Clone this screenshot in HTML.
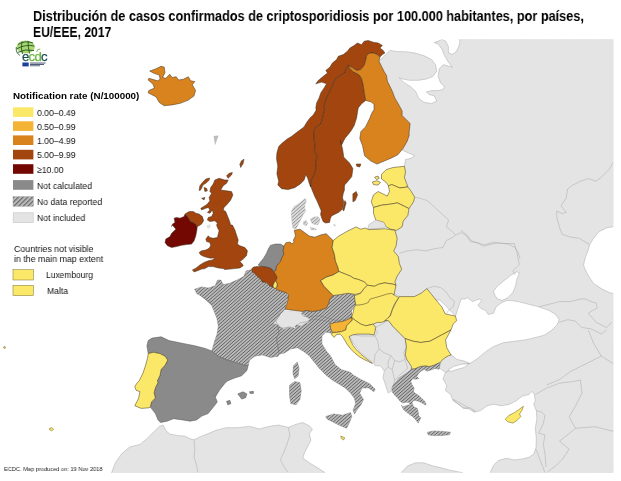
<!DOCTYPE html>
<html><head><meta charset="utf-8"><title>ECDC map</title>
<style>
html,body{margin:0;padding:0;background:#fff;}
body{width:621px;height:481px;overflow:hidden;position:relative;font-family:"Liberation Sans",sans-serif;}
svg{position:absolute;left:0;top:0;}
.t{position:absolute;white-space:nowrap;color:#000;line-height:1;will-change:transform;}
</style></head><body>
<svg width="621" height="481" viewBox="0 0 621 481">
<defs>
<pattern id="hatch" width="6" height="2.32" patternUnits="userSpaceOnUse" patternTransform="rotate(-41)">
<rect width="6" height="2.32" fill="#bcbcbc"/><rect width="6" height="1.05" fill="#6a6a6a"/>
</pattern>
<pattern id="hatchL" width="6" height="3.3" patternUnits="userSpaceOnUse" patternTransform="rotate(-45)">
<rect width="6" height="3.3" fill="#b8b8b8"/><rect width="6" height="1.1" fill="#666"/>
</pattern>
<clipPath id="hc"><path d="M194.6,289.2 L201.5,286.9 L208.3,288.1 L215.2,285.8 L217.5,280.1 L220.9,280.1 L223.2,284.6 L228.9,283.5 L236.9,280.1 L243.8,276.6 L246.1,270.9 L250.7,269.8 L254.1,273.2 L257.5,276.6 L263.2,280.1 L267.8,284.6 L272.4,285.8 L274.2,287.5 L276.5,288.6 L279.4,289.8 L285.2,292.1 L288.6,296.6 L286.3,302.4 L285.2,309.2 L280.6,313.8 L276.0,320.7 L277.8,326.9 L279.1,332.1 L276.5,338.6 L277.8,346.4 L279.1,354.2 L278.1,356.2 L270.3,357.5 L262.5,354.9 L254.7,356.2 L249.5,360.1 L248.2,365.3 L244.3,365.3 L236.5,362.7 L227.4,360.1 L218.3,356.2 L211.8,351.0 L214.4,341.9 L217.0,334.2 L218.3,326.4 L217.0,318.6 L214.4,312.1 L211.8,305.6 L205.3,299.1 L200.1,295.2 L211.8,304.1 L207.2,300.7 L201.5,296.1 L196.9,293.8Z M279.1,354.2 L277.8,346.4 L276.5,338.6 L279.1,332.1 L277.8,326.9 L283.0,328.2 L289.5,326.9 L294.7,328.2 L299.9,323.0 L306.4,321.7 L314.2,319.1 L321.9,320.4 L329.7,321.7 L331.0,329.5 L332.3,333.4 L325.8,332.1 L321.9,336.0 L321.9,343.8 L325.8,350.3 L331.0,356.8 L334.9,364.5 L341.4,369.7 L350.5,372.3 L353.1,374.9 L359.6,378.8 L370.0,384.0 L375.2,389.2 L373.9,391.8 L368.7,387.9 L362.2,387.9 L359.6,393.1 L363.5,399.6 L360.9,404.8 L357.0,410.0 L354.4,413.9 L353.1,410.0 L355.7,403.5 L354.4,398.3 L350.5,393.1 L345.3,387.9 L338.8,384.0 L332.3,380.1 L325.8,374.9 L319.4,368.4 L314.2,361.9 L309.0,355.5 L303.8,351.6 L297.3,347.7 L290.8,349.0 L284.3,352.9Z M325.8,416.5 L333.6,413.9 L342.7,415.2 L350.5,412.6 L351.8,416.5 L349.2,423.0 L346.6,428.2 L340.1,425.6 L332.3,421.7 L327.1,419.1Z M289.5,385.3 L294.7,381.4 L299.9,382.7 L301.2,390.5 L299.9,399.6 L296.0,404.8 L290.8,403.5 L289.5,395.7Z M293.4,365.8 L297.3,361.9 L299.1,368.4 L298.1,376.2 L294.7,378.8 L292.9,373.6Z M302.3,311.5 L305.8,310.4 L312.6,311.5 L319.5,310.4 L326.3,308.1 L328.6,303.5 L329.8,298.9 L333.2,295.5 L341.2,294.4 L348.1,293.2 L354.9,294.4 L356.1,298.9 L354.9,305.8 L351.5,310.4 L351.5,316.1 L344.6,319.5 L336.6,320.7 L328.6,318.4 L321.8,316.1 L314.9,316.1 L309.2,317.2 L303.5,316.1 L301.2,313.8Z M391.8,388.1 L393.1,385.4 L396.5,381.4 L399.2,378.0 L403.2,375.3 L407.3,372.6 L411.4,369.2 L415.4,368.5 L420.1,366.5 L424.9,365.8 L429.6,366.5 L434.3,365.1 L438.4,363.1 L440.4,362.4 L439.7,366.5 L439.1,369.2 L435.0,368.5 L430.9,369.9 L426.9,371.2 L424.2,369.2 L420.8,371.2 L418.1,373.9 L416.8,376.6 L418.8,378.6 L415.4,379.3 L412.7,378.6 L410.7,381.4 L412.0,384.7 L414.1,388.1 L413.4,391.5 L415.4,393.5 L418.8,395.5 L421.5,398.2 L424.9,401.6 L426.2,405.0 L424.2,404.3 L420.8,402.3 L417.4,400.9 L414.1,400.3 L412.0,402.3 L412.7,405.0 L414.1,407.0 L417.4,408.4 L418.1,411.8 L418.8,415.8 L420.8,417.9 L418.2,423.1 L414.3,417.9 L409.1,414.0 L403.9,410.1 L401.3,404.9 L402.6,407.0 L405.9,405.7 L410.0,404.7 L409.3,402.3 L405.9,402.3 L402.6,403.0 L399.9,400.9 L397.8,398.2 L395.1,395.5 L392.4,392.2Z M427.3,432.2 L433.8,430.9 L442.9,431.4 L450.6,432.2 L449.4,434.8 L441.6,435.6 L432.5,435.6 L428.1,434.8Z M275,315 L352,312 L352,324 L300,326 L275,330Z"/></clipPath><clipPath id="hcdk"><path d="M292.2,209.5 L294.2,206.3 L298.0,204.3 L302.6,200.5 L305.1,198.5 L306.4,200.5 L305.1,204.3 L304.5,208.2 L305.8,210.8 L303.2,214.6 L301.3,218.5 L299.3,222.4 L297.4,226.2 L296.1,228.8 L292.9,228.2 L292.2,223.7 L291.6,217.2 L291.3,212.1Z M303.2,221.7 L305.8,220.4 L307.7,223.0 L306.4,225.6 L303.8,224.9Z M310.3,219.1 L313.5,217.2 L317.4,216.6 L319.9,218.5 L319.3,222.4 L317.4,224.9 L314.1,224.3 L311.6,223.0Z M310.3,227.5 L314.8,228.2 L316.7,229.5 L313.5,230.1 L310.9,229.5Z M333.5,224.3 L335.4,224.9 L334.8,226.2Z"/></clipPath>
<clipPath id="mapclip"><rect x="0" y="39.5" width="613.3" height="433"/></clipPath>
</defs>
<rect width="621" height="481" fill="#fff"/>
<g clip-path="url(#mapclip)">
<path d="M384.8,55.6 L390.0,50.4 L397.8,51.7 L405.6,51.7 L414.7,53.0 L423.8,55.6 L431.6,59.5 L435.5,64.7 L436.8,71.2 L432.9,76.4 L426.4,79.0 L418.6,80.3 L409.5,80.3 L403.0,79.0 L399.1,77.7 L404.3,82.9 L410.8,86.8 L416.0,91.9 L418.6,98.4 L423.8,102.3 L431.6,103.6 L436.8,101.0 L434.2,95.8 L429.0,94.5 L426.4,91.9 L431.6,90.6 L438.1,90.6 L443.2,89.4 L444.5,86.8 L440.6,82.9 L438.1,76.4 L439.4,68.6 L443.2,64.7 L448.4,66.0 L452.3,67.3 L448.4,62.1 L444.5,55.6 L441.9,49.1 L438.1,43.9 L434.2,42.6 L438.1,41.3 L441.9,39.2 L445.8,41.3 L448.4,46.5 L448.4,53.0 L452.3,54.3 L456.2,51.7 L458.8,46.5 L460.1,41.3 L458.8,39.2 L614,39 L614,190 L613.7,226.6 L606.5,227.9 L598.7,231.8 L593.5,238.3 L589.6,244.8 L588.3,250.0 L585.7,256.5 L583.6,264.3 L584.4,267.8 L588.3,275.6 L593.5,283.4 L601.3,288.6 L609.1,292.5 L614.2,293.8 L614,472.5 L490.2,472.8 L493.5,465.3 L498.3,460.5 L506.3,458.3 L514.4,459.9 L522.4,458.9 L528.9,457.3 L533.7,454.1 L536.0,447.6 L536.3,438.0 L535.3,428.3 L536.9,418.6 L536.3,410.6 L533.7,404.2 L535.3,400.9 L534.4,394.5 L532.1,391.3 L528.9,394.5 L522.4,396.1 L516.0,400.9 L509.6,404.2 L501.5,405.8 L493.5,404.2 L487.0,405.8 L480.6,410.6 L474.1,412.2 L469.3,409.0 L462.9,407.4 L458.0,404.2 L453.2,399.3 L475.3,411.4 L470.1,407.5 L463.6,408.8 L459.7,404.9 L453.2,401.0 L450.6,394.5 L445.5,390.6 L446.8,385.5 L442.9,379.0 L445.5,372.5 L451.9,368.6 L462.3,364.7 L470.1,363.4 L477.9,358.2 L485.7,351.7 L493.5,346.5 L503.9,342.6 L514.3,341.3 L524.7,340.0 L533.7,337.9 L544.1,335.3 L551.9,330.1 L557.1,324.9 L559.2,319.7 L555.8,314.5 L549.3,310.6 L538.9,306.8 L528.5,304.2 L518.1,301.6 L509.1,300.3 L505.2,301.0 L501.3,302.9 L496.1,306.8 L493.5,313.2 L488.3,314.5 L485.7,310.6 L480.5,308.1 L477.9,305.5 L481.8,300.3 L479.2,299.0 L472.7,301.6 L467.5,297.7 L464.9,299.0 L461.0,299.0 L457.8,309.2 L455.5,316.1 L440,300 L405,300 L392,292 L390,230 L398,215 L398,170 L404.4,166.3 L405.5,159.5 L411.2,158.3 L414.7,155.5 L408,152.8 L403,150.5 L395,145 L385,100 L378,62Z" fill="#e4e4e4" stroke="#a9a9a9" stroke-width="0.5" stroke-linejoin="round"/>
<path d="M507.8,297.7 L512.9,292.5 L515.5,286.0 L516.8,279.5 L519.4,273.0 L516.8,271.7 L510.4,275.6 L503.9,280.8 L497.4,286.0 L493.5,291.2 L494.8,295.1 L497.4,299.0 L502.6,300.3Z" fill="#ffffff" stroke="#a9a9a9" stroke-width="0.5" stroke-linejoin="round"/>
<path d="M450.6,354.3 L445.5,356.9 L439.0,360.8 L436.4,366.0 L440.3,368.6 L445.5,372.5 L451.9,368.6 L462.3,364.7 L470.1,363.4 L463.6,360.8 L457.1,359.5Z" fill="#e4e4e4" stroke="#a9a9a9" stroke-width="0.5" stroke-linejoin="round"/>
<path d="M448.7,369.6 L453.4,366.5 L461.2,364.3 L469,363.7 L464.3,367.4 L456.5,369.6 L450.3,371.8Z" fill="#ffffff" stroke="#a9a9a9" stroke-width="0.5" stroke-linejoin="round"/>
<path d="M352,332 L385,318 L410,322 L414,345 L416,366 L408,385 L394,388 L390,378 L388,370 L378,362 L366,350 L356,340Z" fill="#e4e4e4"/>
<path d="M349.2,336.0 L353.1,334.7 L360.9,336.0 L368.7,336.0 L375.2,336.0 L377.8,332.1 L373.9,328.2 L381.7,324.3 L388.2,320.4 L393.4,326.9 L399.9,333.4 L405.1,338.6 L406.4,346.4 L403.8,352.9 L405.1,359.4 L407.7,368.4 L399.9,374.9 L394.7,380.1 L393.4,385.3 L392.1,390.5 L388.2,393.1 L385.6,385.3 L383.0,377.5 L384.3,371.0 L380.4,365.8 L375.2,365.8 L373.9,363.2 L367.4,358.1 L359.6,351.6 L353.1,342.5Z" fill="#e4e4e4" stroke="#a9a9a9" stroke-width="0.5" stroke-linejoin="round"/>
<path d="M111.6,472.8 L115.5,462.5 L121.9,453.5 L129.6,447.0 L139.9,444.4 L147.7,438.0 L154.1,431.5 L159.3,426.4 L163.1,425.1 L165.7,430.3 L169.6,434.1 L177.3,435.4 L185.1,436.2 L190.2,438.8 L194.1,439.8 L200.5,436.7 L208.2,433.6 L216.0,430.3 L226.3,427.7 L236.6,427.7 L240.0,427.4 L249.7,426.4 L259.3,429.0 L269.0,426.4 L278.6,425.1 L288.3,427.4 L296.4,424.2 L302.8,422.5 L309.2,425.8 L312.5,429.0 L309.2,433.8 L310.9,440.3 L307.6,446.7 L304.4,453.1 L302.8,458.0 L309.2,462.8 L317.3,467.6 L325.3,472.8 L325,472.5 L111,472.5Z" fill="#e4e4e4" stroke="#a9a9a9" stroke-width="0.5" stroke-linejoin="round"/>
<path d="M401.0,472.8 L407.5,466.0 L415.5,462.8 L423.6,462.8 L433.2,466.0 L440.0,467.6 L450.0,470.2 L462.9,472.8Z" fill="#e4e4e4" stroke="#a9a9a9" stroke-width="0.5" stroke-linejoin="round"/>
<g clip-path="url(#hc)"><rect x="180" y="195" width="290" height="250" fill="#b9b9b9"/><path d="M-109.09,445 L175.00,195 M-105.34,445 L178.75,195 M-101.59,445 L182.50,195 M-97.84,445 L186.25,195 M-94.09,445 L190.00,195 M-90.34,445 L193.75,195 M-86.59,445 L197.50,195 M-82.84,445 L201.25,195 M-79.09,445 L205.00,195 M-75.34,445 L208.75,195 M-71.59,445 L212.50,195 M-67.84,445 L216.25,195 M-64.09,445 L220.00,195 M-60.34,445 L223.75,195 M-56.59,445 L227.50,195 M-52.84,445 L231.25,195 M-49.09,445 L235.00,195 M-45.34,445 L238.75,195 M-41.59,445 L242.50,195 M-37.84,445 L246.25,195 M-34.09,445 L250.00,195 M-30.34,445 L253.75,195 M-26.59,445 L257.50,195 M-22.84,445 L261.25,195 M-19.09,445 L265.00,195 M-15.34,445 L268.75,195 M-11.59,445 L272.50,195 M-7.84,445 L276.25,195 M-4.09,445 L280.00,195 M-0.34,445 L283.75,195 M3.41,445 L287.50,195 M7.16,445 L291.25,195 M10.91,445 L295.00,195 M14.66,445 L298.75,195 M18.41,445 L302.50,195 M22.16,445 L306.25,195 M25.91,445 L310.00,195 M29.66,445 L313.75,195 M33.41,445 L317.50,195 M37.16,445 L321.25,195 M40.91,445 L325.00,195 M44.66,445 L328.75,195 M48.41,445 L332.50,195 M52.16,445 L336.25,195 M55.91,445 L340.00,195 M59.66,445 L343.75,195 M63.41,445 L347.50,195 M67.16,445 L351.25,195 M70.91,445 L355.00,195 M74.66,445 L358.75,195 M78.41,445 L362.50,195 M82.16,445 L366.25,195 M85.91,445 L370.00,195 M89.66,445 L373.75,195 M93.41,445 L377.50,195 M97.16,445 L381.25,195 M100.91,445 L385.00,195 M104.66,445 L388.75,195 M108.41,445 L392.50,195 M112.16,445 L396.25,195 M115.91,445 L400.00,195 M119.66,445 L403.75,195 M123.41,445 L407.50,195 M127.16,445 L411.25,195 M130.91,445 L415.00,195 M134.66,445 L418.75,195 M138.41,445 L422.50,195 M142.16,445 L426.25,195 M145.91,445 L430.00,195 M149.66,445 L433.75,195 M153.41,445 L437.50,195 M157.16,445 L441.25,195 M160.91,445 L445.00,195 M164.66,445 L448.75,195 M168.41,445 L452.50,195 M172.16,445 L456.25,195 M175.91,445 L460.00,195 M179.66,445 L463.75,195 M183.41,445 L467.50,195 M187.16,445 L471.25,195 M190.91,445 L475.00,195 M194.66,445 L478.75,195 M198.41,445 L482.50,195 M202.16,445 L486.25,195 M205.91,445 L490.00,195 M209.66,445 L493.75,195 M213.41,445 L497.50,195 M217.16,445 L501.25,195 M220.91,445 L505.00,195 M224.66,445 L508.75,195 M228.41,445 L512.50,195 M232.16,445 L516.25,195 M235.91,445 L520.00,195 M239.66,445 L523.75,195 M243.41,445 L527.50,195 M247.16,445 L531.25,195 M250.91,445 L535.00,195 M254.66,445 L538.75,195 M258.41,445 L542.50,195 M262.16,445 L546.25,195 M265.91,445 L550.00,195 M269.66,445 L553.75,195 M273.41,445 L557.50,195 M277.16,445 L561.25,195 M280.91,445 L565.00,195 M284.66,445 L568.75,195 M288.41,445 L572.50,195 M292.16,445 L576.25,195 M295.91,445 L580.00,195 M299.66,445 L583.75,195 M303.41,445 L587.50,195 M307.16,445 L591.25,195 M310.91,445 L595.00,195 M314.66,445 L598.75,195 M318.41,445 L602.50,195 M322.16,445 L606.25,195 M325.91,445 L610.00,195 M329.66,445 L613.75,195 M333.41,445 L617.50,195 M337.16,445 L621.25,195 M340.91,445 L625.00,195 M344.66,445 L628.75,195 M348.41,445 L632.50,195 M352.16,445 L636.25,195 M355.91,445 L640.00,195 M359.66,445 L643.75,195 M363.41,445 L647.50,195 M367.16,445 L651.25,195 M370.91,445 L655.00,195 M374.66,445 L658.75,195 M378.41,445 L662.50,195 M382.16,445 L666.25,195 M385.91,445 L670.00,195 M389.66,445 L673.75,195 M393.41,445 L677.50,195 M397.16,445 L681.25,195 M400.91,445 L685.00,195 M404.66,445 L688.75,195 M408.41,445 L692.50,195 M412.16,445 L696.25,195 M415.91,445 L700.00,195 M419.66,445 L703.75,195 M423.41,445 L707.50,195 M427.16,445 L711.25,195 M430.91,445 L715.00,195 M434.66,445 L718.75,195 M438.41,445 L722.50,195 M442.16,445 L726.25,195 M445.91,445 L730.00,195 M449.66,445 L733.75,195 M453.41,445 L737.50,195 M457.16,445 L741.25,195 M460.91,445 L745.00,195 M464.66,445 L748.75,195 M468.41,445 L752.50,195 M472.16,445 L756.25,195" stroke="#5e5e5e" stroke-width="0.95" fill="none"/></g>
<g clip-path="url(#hcdk)"><rect x="285" y="195" width="60" height="40" fill="#dcdcdc"/><path d="M236.02,237 L283.75,195 M239.77,237 L287.50,195 M243.52,237 L291.25,195 M247.27,237 L295.00,195 M251.02,237 L298.75,195 M254.77,237 L302.50,195 M258.52,237 L306.25,195 M262.27,237 L310.00,195 M266.02,237 L313.75,195 M269.77,237 L317.50,195 M273.52,237 L321.25,195 M277.27,237 L325.00,195 M281.02,237 L328.75,195 M284.77,237 L332.50,195 M288.52,237 L336.25,195 M292.27,237 L340.00,195 M296.02,237 L343.75,195 M299.77,237 L347.50,195 M303.52,237 L351.25,195 M307.27,237 L355.00,195 M311.02,237 L358.75,195 M314.77,237 L362.50,195 M318.52,237 L366.25,195 M322.27,237 L370.00,195 M326.02,237 L373.75,195 M329.77,237 L377.50,195 M333.52,237 L381.25,195 M337.27,237 L385.00,195 M341.02,237 L388.75,195 M344.77,237 L392.50,195" stroke="#8c8c8c" stroke-width="0.9" fill="none"/></g>
<path d="M273.7,323.5 L277.2,318.9 L280.6,314.3 L285.2,310.9 L292.0,310.9 L298.9,312.0 L302.3,314.3 L305.8,316.6 L309.2,318.9 L308.0,322.3 L304.6,323.5 L301.2,325.8 L296.6,324.6 L293.2,328.0 L288.6,326.9 L284.0,329.2 L280.6,326.9 L278.3,324.6Z" fill="#e4e4e4" stroke="#cfcfcf" stroke-width="0.5"/>
<path d="M292.2,209.5 L294.2,206.3 L298.0,204.3 L302.6,200.5 L305.1,198.5 L306.4,200.5 L305.1,204.3 L304.5,208.2 L305.8,210.8 L303.2,214.6 L301.3,218.5 L299.3,222.4 L297.4,226.2 L296.1,228.8 L292.9,228.2 L292.2,223.7 L291.6,217.2 L291.3,212.1Z" fill="none" stroke="#bbb" stroke-width="0.4" stroke-linejoin="round"/>
<path d="M303.2,221.7 L305.8,220.4 L307.7,223.0 L306.4,225.6 L303.8,224.9Z" fill="none" stroke="#bbb" stroke-width="0.4" stroke-linejoin="round"/>
<path d="M310.3,219.1 L313.5,217.2 L317.4,216.6 L319.9,218.5 L319.3,222.4 L317.4,224.9 L314.1,224.3 L311.6,223.0Z" fill="none" stroke="#bbb" stroke-width="0.4" stroke-linejoin="round"/>
<path d="M310.3,227.5 L314.8,228.2 L316.7,229.5 L313.5,230.1 L310.9,229.5Z" fill="none" stroke="#bbb" stroke-width="0.4" stroke-linejoin="round"/>
<path d="M333.5,224.3 L335.4,224.9 L334.8,226.2Z" fill="none" stroke="#bbb" stroke-width="0.4" stroke-linejoin="round"/>
<path d="M194.6,289.2 L201.5,286.9 L208.3,288.1 L215.2,285.8 L217.5,280.1 L220.9,280.1 L223.2,284.6 L228.9,283.5 L236.9,280.1 L243.8,276.6 L246.1,270.9 L250.7,269.8 L254.1,273.2 L257.5,276.6 L263.2,280.1 L267.8,284.6 L272.4,285.8 L274.2,287.5 L276.5,288.6 L279.4,289.8 L285.2,292.1 L288.6,296.6 L286.3,302.4 L285.2,309.2 L280.6,313.8 L276.0,320.7 L277.8,326.9 L279.1,332.1 L276.5,338.6 L277.8,346.4 L279.1,354.2 L278.1,356.2 L270.3,357.5 L262.5,354.9 L254.7,356.2 L249.5,360.1 L248.2,365.3 L244.3,365.3 L236.5,362.7 L227.4,360.1 L218.3,356.2 L211.8,351.0 L214.4,341.9 L217.0,334.2 L218.3,326.4 L217.0,318.6 L214.4,312.1 L211.8,305.6 L205.3,299.1 L200.1,295.2 L211.8,304.1 L207.2,300.7 L201.5,296.1 L196.9,293.8Z" fill="none" stroke="#777" stroke-width="0.4" stroke-linejoin="round"/>
<path d="M279.1,354.2 L277.8,346.4 L276.5,338.6 L279.1,332.1 L277.8,326.9 L283.0,328.2 L289.5,326.9 L294.7,328.2 L299.9,323.0 L306.4,321.7 L314.2,319.1 L321.9,320.4 L329.7,321.7 L331.0,329.5 L332.3,333.4 L325.8,332.1 L321.9,336.0 L321.9,343.8 L325.8,350.3 L331.0,356.8 L334.9,364.5 L341.4,369.7 L350.5,372.3 L353.1,374.9 L359.6,378.8 L370.0,384.0 L375.2,389.2 L373.9,391.8 L368.7,387.9 L362.2,387.9 L359.6,393.1 L363.5,399.6 L360.9,404.8 L357.0,410.0 L354.4,413.9 L353.1,410.0 L355.7,403.5 L354.4,398.3 L350.5,393.1 L345.3,387.9 L338.8,384.0 L332.3,380.1 L325.8,374.9 L319.4,368.4 L314.2,361.9 L309.0,355.5 L303.8,351.6 L297.3,347.7 L290.8,349.0 L284.3,352.9Z" fill="none" stroke="#777" stroke-width="0.4" stroke-linejoin="round"/>
<path d="M325.8,416.5 L333.6,413.9 L342.7,415.2 L350.5,412.6 L351.8,416.5 L349.2,423.0 L346.6,428.2 L340.1,425.6 L332.3,421.7 L327.1,419.1Z" fill="none" stroke="#777" stroke-width="0.4" stroke-linejoin="round"/>
<path d="M289.5,385.3 L294.7,381.4 L299.9,382.7 L301.2,390.5 L299.9,399.6 L296.0,404.8 L290.8,403.5 L289.5,395.7Z" fill="none" stroke="#777" stroke-width="0.4" stroke-linejoin="round"/>
<path d="M293.4,365.8 L297.3,361.9 L299.1,368.4 L298.1,376.2 L294.7,378.8 L292.9,373.6Z" fill="none" stroke="#777" stroke-width="0.4" stroke-linejoin="round"/>
<path d="M302.3,311.5 L305.8,310.4 L312.6,311.5 L319.5,310.4 L326.3,308.1 L328.6,303.5 L329.8,298.9 L333.2,295.5 L341.2,294.4 L348.1,293.2 L354.9,294.4 L356.1,298.9 L354.9,305.8 L351.5,310.4 L351.5,316.1 L344.6,319.5 L336.6,320.7 L328.6,318.4 L321.8,316.1 L314.9,316.1 L309.2,317.2 L303.5,316.1 L301.2,313.8Z" fill="none" stroke="#777" stroke-width="0.4" stroke-linejoin="round"/>
<path d="M391.8,388.1 L393.1,385.4 L396.5,381.4 L399.2,378.0 L403.2,375.3 L407.3,372.6 L411.4,369.2 L415.4,368.5 L420.1,366.5 L424.9,365.8 L429.6,366.5 L434.3,365.1 L438.4,363.1 L440.4,362.4 L439.7,366.5 L439.1,369.2 L435.0,368.5 L430.9,369.9 L426.9,371.2 L424.2,369.2 L420.8,371.2 L418.1,373.9 L416.8,376.6 L418.8,378.6 L415.4,379.3 L412.7,378.6 L410.7,381.4 L412.0,384.7 L414.1,388.1 L413.4,391.5 L415.4,393.5 L418.8,395.5 L421.5,398.2 L424.9,401.6 L426.2,405.0 L424.2,404.3 L420.8,402.3 L417.4,400.9 L414.1,400.3 L412.0,402.3 L412.7,405.0 L414.1,407.0 L417.4,408.4 L418.1,411.8 L418.8,415.8 L420.8,417.9 L418.2,423.1 L414.3,417.9 L409.1,414.0 L403.9,410.1 L401.3,404.9 L402.6,407.0 L405.9,405.7 L410.0,404.7 L409.3,402.3 L405.9,402.3 L402.6,403.0 L399.9,400.9 L397.8,398.2 L395.1,395.5 L392.4,392.2Z" fill="none" stroke="#777" stroke-width="0.4" stroke-linejoin="round"/>
<path d="M427.3,432.2 L433.8,430.9 L442.9,431.4 L450.6,432.2 L449.4,434.8 L441.6,435.6 L432.5,435.6 L428.1,434.8Z" fill="none" stroke="#777" stroke-width="0.4" stroke-linejoin="round"/>
<path d="M149.7,71.1 L156.1,68.7 L160.9,66.3 L164.2,67.1 L165.0,72.7 L162.5,77.5 L165.8,78.3 L169.8,74.3 L172.2,77.5 L176.2,76.7 L178.6,80.0 L183.5,79.2 L188.3,76.7 L190.7,80.8 L194.8,81.6 L192.3,84.8 L195.6,90.4 L193.9,96.1 L188.3,100.1 L180.3,103.3 L172.2,104.9 L164.2,105.7 L159.3,102.5 L156.1,96.9 L148.1,92.8 L148.9,90.4 L154.5,88.0 L152.9,84.0 L148.1,80.0 L148.9,78.3 L157.7,80.8 L160.1,79.2 L159.3,75.1 L154.5,73.5Z" fill="#d9831f" stroke="#3a3020" stroke-width="0.5" stroke-linejoin="round"/>
<path d="M315.8,107.9 L316.6,102.9 L319.1,97.9 L320.8,92.9 L324.1,87.9 L326.6,83.8 L321.6,82.1 L315.8,83.8 L318.3,80.4 L323.3,76.3 L327.5,72.9 L325.8,70.4 L330.0,67.1 L332.4,63.0 L336.6,59.6 L338.3,56.3 L343.3,54.6 L347.4,51.3 L349.9,48.0 L354.1,45.5 L357.4,43.0 L361.6,44.7 L364.1,41.3 L368.2,40.5 L373.2,42.2 L378.2,43.0 L382.4,45.5 L379.9,48.0 L383.2,50.5 L384.9,53.0 L382.4,54.6 L379.9,57.1 L377.4,54.6 L373.2,53.0 L369.9,53.0 L366.6,55.5 L365.7,60.5 L364.1,65.5 L360.7,69.6 L356.6,70.4 L352.4,67.6 L348.3,65.5 L345.8,68.8 L344.9,72.9 L340.8,75.4 L336.6,77.9 L334.1,81.3 L332.4,86.3 L330.0,91.2 L327.5,96.2 L325.0,102.1 L324.1,107.9 L324.6,110.0 L322.7,117.5 L320.9,124.0 L316.2,126.9 L314.3,130.6 L313.9,138.1 L315.2,145.6 L314.3,151.2 L317.1,155.9 L315.8,161.5 L316.2,168.1 L314.3,174.6 L311.5,180.2 L310.6,186.8 L309.1,183.0 L307.8,178.4 L305.9,174.6 L304.0,180.2 L300.3,184.0 L294.6,187.7 L288.1,189.6 L281.5,188.7 L277.8,184.9 L278.7,181.2 L276.9,173.7 L277.8,166.2 L276.5,158.7 L276.9,153.1 L278.7,146.5 L282.5,142.8 L287.2,139.0 L291.8,136.2 L296.5,132.5 L300.3,129.7 L304.0,126.9 L306.8,122.2 L309.6,118.4 L313.4,114.7 L316.2,110.0Z" fill="#a2450f" stroke="#3a3020" stroke-width="0.5" stroke-linejoin="round"/>
<path d="M348.3,65.5 L349.9,68.4 L353.2,71.8 L357.4,73.8 L359.9,75.8 L361.6,78.8 L363.2,84.6 L364.1,91.2 L364.9,96.2 L365.7,100.4 L361.6,103.7 L358.2,107.9 L357.4,112.9 L356.6,118.0 L354.1,125.8 L350.6,131.5 L344.9,138.4 L341.5,145.2 L340.3,140.0 L342.6,149.2 L343.8,157.2 L349.5,162.9 L352.9,168.6 L351.8,176.6 L347.2,182.3 L343.8,185.8 L344.4,185.0 L344.4,190.2 L343.1,194.0 L342.5,197.9 L343.8,201.8 L343.1,205.6 L341.9,209.5 L339.3,212.1 L335.4,214.0 L331.5,215.9 L330.3,218.5 L329.6,222.4 L325.7,223.0 L323.2,221.7 L321.9,218.5 L320.6,214.6 L321.2,210.8 L319.3,206.3 L317.4,201.8 L314.8,196.6 L312.2,190.2 L310.3,185.0 L310.6,186.8 L311.5,180.2 L314.3,174.6 L316.2,168.1 L315.8,161.5 L317.1,155.9 L314.3,151.2 L315.2,145.6 L313.9,138.1 L314.3,130.6 L316.2,126.9 L320.9,124.0 L322.7,117.5 L324.6,110.0 L324.1,107.9 L325.0,102.1 L327.5,96.2 L330.0,91.2 L332.4,86.3 L334.1,81.3 L336.6,77.9 L340.8,75.4 L344.9,72.9 L345.8,68.8Z" fill="#a2450f" stroke="#3a3020" stroke-width="0.5" stroke-linejoin="round"/>
<path d="M352.9,193.8 L356.3,191.5 L357.5,194.9 L355.2,200.6 L352.9,201.8Z" fill="#a2450f" stroke="#3a3020" stroke-width="0.5" stroke-linejoin="round"/>
<path d="M344.9,200.6 L346.1,202.9 L343.8,210.9 L342.6,209.8Z" fill="#a2450f" stroke="#3a3020" stroke-width="0.5" stroke-linejoin="round"/>
<path d="M379.9,57.1 L377.4,54.6 L373.2,53.0 L369.9,53.0 L366.6,55.5 L365.7,60.5 L364.1,65.5 L360.7,69.6 L356.6,70.4 L352.4,67.6 L348.3,65.5 L349.9,68.4 L353.2,71.8 L357.4,73.8 L359.9,75.8 L361.6,78.8 L363.2,84.6 L364.1,91.2 L364.9,96.2 L365.7,100.4 L371.5,102.1 L374.0,104.6 L374.0,109.5 L371.5,113.7 L369.9,118.0 L365.5,126.9 L360.9,131.5 L359.8,138.4 L362.5,145.4 L364.6,155.8 L370.8,161.0 L377.0,164.1 L384.3,161.0 L391.6,157.9 L397.8,154.8 L403.0,148.5 L407.2,141.2 L409.3,135.0 L409.0,133.8 L410.1,123.5 L402.1,115.5 L402.1,110.9 L398.2,103.7 L394.8,97.9 L392.3,91.2 L389.9,86.3 L387.4,81.3 L386.5,75.4 L384.0,71.3 L381.5,66.3 L379.0,61.3Z" fill="#d9831f" stroke="#3a3020" stroke-width="0.5" stroke-linejoin="round"/>
<path d="M356.3,164.0 L360.9,164.0 L359.8,167.0 L356.8,166.3Z" fill="#a2450f" stroke="#3a3020" stroke-width="0.5" stroke-linejoin="round"/>
<path d="M381.5,174.3 L386.1,169.7 L393.0,167.5 L404.4,166.3 L405.5,172.0 L404.4,177.7 L406.7,183.5 L407.8,186.9 L399.8,188.0 L391.8,184.6 L388.4,185.8 L386.1,182.3 L381.5,178.9Z" fill="#fce868" stroke="#3a3020" stroke-width="0.5" stroke-linejoin="round"/>
<path d="M372.4,181.9 L376.9,180.7 L380.4,182.3 L378.1,185.1 L373.5,184.6Z" fill="#fce868" stroke="#3a3020" stroke-width="0.5" stroke-linejoin="round"/>
<path d="M374.6,177.1 L378.1,176.1 L379.2,178.4 L376.5,179.6Z" fill="#fce868" stroke="#3a3020" stroke-width="0.5" stroke-linejoin="round"/>
<path d="M373.5,194.9 L378.1,191.5 L382.7,193.8 L387.2,196.1 L389.5,191.5 L388.4,185.8 L391.8,184.6 L399.8,188.0 L407.8,186.9 L411.3,191.5 L414.7,197.2 L413.5,201.8 L409.0,208.6 L404.4,206.3 L397.5,202.9 L390.7,204.1 L381.5,205.2 L373.5,207.5 L371.2,201.8Z" fill="#fce868" stroke="#3a3020" stroke-width="0.5" stroke-linejoin="round"/>
<path d="M373.5,207.5 L381.5,205.2 L390.7,204.1 L397.5,202.9 L404.4,206.3 L409.0,208.6 L407.8,215.5 L403.2,221.2 L402.1,226.9 L396.4,230.4 L390.7,229.2 L386.1,226.9 L383.8,222.4 L375.8,220.1 L373.5,213.2Z" fill="#fce868" stroke="#3a3020" stroke-width="0.5" stroke-linejoin="round"/>
<path d="M367.8,229.2 L368.9,224.6 L375.8,220.1 L383.8,222.4 L386.1,226.9 L381.5,228.1Z" fill="#e4e4e4" stroke="#a9a9a9" stroke-width="0.5" stroke-linejoin="round"/>
<path d="M214.9,180.0 L219.1,178.3 L224.9,180.0 L228.2,180.0 L226.6,183.3 L223.2,185.8 L220.7,190.0 L226.6,190.8 L231.5,191.6 L232.9,194.9 L230.7,199.9 L227.4,204.1 L224.1,207.4 L223.2,209.9 L225.7,211.6 L227.4,215.7 L229.1,219.9 L230.7,224.9 L232.4,225.0 L234.9,230.0 L236.5,235.0 L238.2,240.0 L237.4,244.1 L239.9,245.8 L244.9,247.5 L247.4,250.8 L246.5,255.8 L243.2,259.1 L239.9,261.6 L242.4,264.1 L243.2,265.8 L239.9,267.9 L234.9,268.6 L229.9,269.1 L224.9,269.6 L223.2,268.6 L218.2,267.9 L213.2,266.6 L208.3,266.6 L204.9,268.6 L201.6,269.1 L197.4,270.8 L194.1,271.9 L192.4,269.9 L195.8,268.3 L199.9,264.9 L204.1,262.4 L208.3,260.8 L212.4,259.9 L214.9,257.4 L210.7,258.3 L207.4,257.4 L204.1,256.6 L200.8,255.0 L199.1,252.5 L201.6,250.8 L205.8,250.0 L209.1,248.3 L210.7,245.8 L209.9,242.5 L206.6,241.6 L205.8,239.1 L208.3,235.8 L209.9,237.5 L213.2,238.3 L217.4,237.5 L218.2,234.2 L219.1,230.8 L217.4,227.5 L216.6,225.0 L217.4,223.2 L214.9,220.7 L209.9,221.6 L207.4,219.9 L208.3,217.4 L211.6,216.6 L213.2,213.2 L212.4,209.9 L209.9,213.2 L207.4,212.4 L209.9,209.9 L208.3,207.4 L205.8,208.3 L201.6,209.9 L200.8,208.3 L204.9,205.8 L207.4,204.1 L209.9,200.8 L209.1,197.4 L211.6,193.3 L209.9,191.6 L210.7,187.5 L213.2,184.1Z" fill="#a2450f" stroke="#3a3020" stroke-width="0.5" stroke-linejoin="round"/>
<path d="M199.9,185.8 L202.4,182.5 L205.8,179.1 L209.6,178.0 L209.1,180.3 L205.8,183.3 L202.9,185.0 L201.6,188.3 L199.9,190.8 L199.1,190.0Z" fill="#a2450f" stroke="#3a3020" stroke-width="0.5" stroke-linejoin="round"/>
<path d="M204.1,187.5 L206.6,188.3 L207.4,190.8 L204.9,191.6Z" fill="#a2450f" stroke="#3a3020" stroke-width="0.5" stroke-linejoin="round"/>
<path d="M201.6,198.3 L204.9,197.4 L204.1,199.9Z" fill="#a2450f" stroke="#3a3020" stroke-width="0.5" stroke-linejoin="round"/>
<path d="M226.6,175.8 L229.1,173.3 L232.4,172.5 L231.5,175.0 L228.2,178.3Z" fill="#a2450f" stroke="#3a3020" stroke-width="0.5" stroke-linejoin="round"/>
<path d="M239.9,164.2 L241.5,160.8 L244.0,159.2 L243.2,163.3 L240.7,167.5Z" fill="#a2450f" stroke="#3a3020" stroke-width="0.5" stroke-linejoin="round"/>
<path d="M207.4,225.7 L209.9,224.9 L209.6,227.4 L207.9,228.2Z" fill="#f0f0f0" stroke="#bbb" stroke-width="0.5" stroke-linejoin="round"/>
<path d="M174.1,218.2 L176.6,217.4 L180.0,218.2 L184.1,216.6 L185.0,214.1 L187.5,216.6 L189.1,219.1 L190.8,221.6 L193.3,222.4 L195.8,224.1 L196.6,226.6 L197.4,225.0 L196.9,230.0 L195.8,235.8 L194.1,240.8 L191.6,244.1 L186.6,244.6 L181.6,245.3 L176.6,246.6 L171.6,247.5 L167.5,245.8 L165.0,242.5 L165.8,239.1 L170.0,236.6 L171.6,233.3 L175.8,229.2 L172.5,225.0 L171.6,226.6 L172.5,224.1 L175.0,222.4Z" fill="#730802" stroke="#3a3020" stroke-width="0.5" stroke-linejoin="round"/>
<path d="M185.0,214.1 L189.1,211.6 L193.3,211.6 L195.8,213.2 L199.1,214.1 L202.4,216.6 L203.6,220.7 L201.6,224.1 L199.1,225.7 L196.6,226.6 L195.8,224.1 L193.3,222.4 L190.8,221.6 L189.1,219.1 L187.5,216.6Z" fill="#a2450f" stroke="#3a3020" stroke-width="0.5" stroke-linejoin="round"/>
<path d="M213.6,136.0 L218.6,135.6 L216.8,140.6 L215.0,145.2Z" fill="#bdbdbd"/>
<path d="M258.2,265.0 L260.3,262.3 L263.6,258.2 L266.4,253.5 L268.4,248.8 L270.4,245.4 L275.1,244.1 L280.5,244.1 L283.9,246.1 L283.2,250.8 L283.9,254.2 L281.9,257.6 L280.5,261.6 L278.5,263.6 L276.5,266.4 L275.8,270.4 L273.8,271.8 L271.8,269.1 L269.1,267.7 L265.7,267.0 L261.6,266.4Z" fill="#8a8a8a" stroke="#555" stroke-width="0.5" stroke-linejoin="round"/>
<path d="M251.5,269.1 L253.5,267.0 L258.2,266.4 L261.6,266.4 L265.7,267.0 L269.1,267.7 L271.8,269.1 L273.8,271.8 L275.8,274.5 L277.2,277.8 L275.8,280.5 L274.5,281.9 L273.1,285.3 L272.4,287.3 L269.1,285.3 L266.4,282.6 L262.3,281.9 L260.9,279.2 L257.6,276.5 L254.2,273.1 L252.2,271.8Z" fill="#a2450f" stroke="#3a3020" stroke-width="0.5" stroke-linejoin="round"/>
<path d="M294.3,230.3 L300.0,229.2 L304.6,232.6 L309.2,236.0 L314.9,237.2 L320.6,234.9 L326.3,233.7 L329.8,237.2 L333.2,240.6 L332.1,247.5 L334.4,254.3 L335.5,261.2 L337.8,266.9 L338.9,271.5 L333.2,274.9 L326.3,277.2 L320.6,280.6 L324.1,286.3 L329.8,292.1 L333.2,295.5 L329.8,298.9 L328.6,303.5 L326.3,308.1 L319.5,310.4 L312.6,311.5 L305.8,310.4 L302.3,311.5 L294.3,310.4 L285.2,309.2 L286.6,305.0 L288.0,299.5 L288.6,294.7 L285.9,292.7 L281.9,291.4 L277.8,290.0 L275.4,288.4 L276.8,286.6 L277.2,283.9 L275.8,280.5 L277.2,277.8 L275.8,274.5 L273.8,271.8 L275.8,270.4 L276.5,266.4 L278.5,263.6 L280.5,261.6 L281.9,257.6 L283.9,254.2 L283.2,250.8 L283.9,246.1 L285.9,242.7 L290.0,242.0 L292.0,244.1 L294.1,241.4 L293.2,240.6 L295.5,236.0Z" fill="#d9831f" stroke="#3a3020" stroke-width="0.5" stroke-linejoin="round"/>
<path d="M273.1,285.3 L274.5,281.9 L275.8,281.2 L277.2,283.9 L276.8,286.6 L275.4,288.4 L273.5,287.6Z" fill="#fce868" stroke="#3a3020" stroke-width="0.5" stroke-linejoin="round"/>
<path d="M333.2,240.6 L338.9,236.0 L346.9,231.4 L356.1,226.9 L360.7,229.2 L365.2,228.0 L368.7,229.6 L379.0,229.2 L384.7,228.7 L394.9,230.3 L397.2,238.3 L396.0,246.3 L393.7,250.9 L398.3,256.6 L399.4,263.5 L401.7,269.2 L397.2,276.1 L394.9,281.8 L396.0,285.2 L392.7,284.1 L384.7,282.9 L379.0,284.1 L374.4,286.3 L367.5,285.2 L364.1,281.8 L358.4,279.5 L353.8,278.3 L350.4,276.1 L344.6,273.8 L338.9,271.5 L337.8,266.9 L335.5,261.2 L334.4,254.3 L332.1,247.5Z" fill="#fce868" stroke="#3a3020" stroke-width="0.5" stroke-linejoin="round"/>
<path d="M320.6,280.6 L326.3,277.2 L333.2,274.9 L338.9,271.5 L344.6,273.8 L350.4,276.1 L353.8,278.3 L358.4,279.5 L364.1,281.8 L367.5,285.2 L364.1,288.6 L360.7,293.2 L354.9,294.4 L348.1,293.2 L341.2,294.4 L333.2,295.5 L329.8,292.1 L324.1,286.3Z" fill="#fce868" stroke="#3a3020" stroke-width="0.5" stroke-linejoin="round"/>
<path d="M353.3,311.6 L354.1,307.5 L355.8,305.0 L356.6,301.6 L359.1,300.0 L364.1,299.2 L368.3,298.3 L369.9,296.7 L375.7,295.0 L381.6,294.2 L386.6,292.5 L391.5,291.7 L394.0,295.0 L399.0,297.5 L396.5,300.8 L394.0,305.0 L392.4,309.1 L390.7,314.1 L388.2,318.3 L385.7,320.8 L381.6,322.4 L377.4,322.4 L373.2,324.1 L369.9,324.9 L365.8,325.8 L360.8,324.1 L355.8,320.8 L351.6,317.5 L352.4,315.0Z" fill="#fce868" stroke="#3a3020" stroke-width="0.5" stroke-linejoin="round"/>
<path d="M367.5,285.2 L374.4,286.3 L379.0,284.1 L384.7,282.9 L392.7,284.1 L396.0,285.2 L394.0,295.0 L391.5,293.3 L386.6,294.2 L381.6,295.8 L375.7,297.5 L369.9,299.2 L368.3,302.5 L364.1,304.1 L359.1,305.0 L355.8,305.0 L354.9,300.0 L354.4,295.8 L360.7,293.2 L364.1,288.6Z" fill="#fce868" stroke="#3a3020" stroke-width="0.5" stroke-linejoin="round"/>
<path d="M330.0,324.1 L335.0,322.4 L341.6,321.6 L346.6,320.0 L351.6,317.5 L352.4,320.0 L349.1,323.3 L346.6,325.8 L345.8,329.9 L341.6,331.6 L336.6,332.4 L332.5,332.4 L330.8,329.1Z" fill="#f5b335" stroke="#3a3020" stroke-width="0.5" stroke-linejoin="round"/>
<path d="M332.5,332.4 L336.6,332.4 L341.6,331.6 L345.8,329.9 L346.6,325.8 L349.1,323.3 L352.4,320.0 L351.6,317.5 L355.8,320.8 L360.8,324.1 L365.8,325.8 L369.9,324.9 L373.2,324.1 L375.7,327.4 L374.9,331.6 L374.1,334.9 L369.1,334.1 L363.3,334.1 L357.4,334.1 L352.4,334.9 L349.1,336.6 L350.8,340.7 L353.3,345.7 L356.6,349.9 L360.8,354.1 L364.9,357.4 L369.1,360.7 L372.4,363.5 L368.3,361.5 L363.3,359.1 L359.1,356.6 L354.9,353.2 L350.8,349.1 L347.5,344.9 L345.0,340.7 L342.5,336.6 L340.0,334.1 L336.6,334.6 L334.1,337.4 L331.6,334.9Z" fill="#fce868" stroke="#3a3020" stroke-width="0.5" stroke-linejoin="round"/>
<path d="M399.4,296.6 L405.2,296.6 L414.3,296.6 L421.2,293.2 L426.9,288.6 L431.5,294.4 L436.1,300.1 L441.8,306.9 L445.2,313.8 L449.8,314.9 L455.5,316.1 L456.6,320.7 L453.2,324.1 L450.9,330.0 L430.0,341.2 L420.6,342.5 L412.9,341.2 L405.1,338.6 L399.9,333.4 L393.4,326.9 L388.2,320.4 L384.6,320.7 L390.3,316.1 L392.6,309.2 L396.0,302.4Z" fill="#fce868" stroke="#3a3020" stroke-width="0.5" stroke-linejoin="round"/>
<path d="M405.1,338.6 L412.9,341.2 L420.6,342.5 L430.0,341.2 L450.9,330.0 L445.5,340.0 L446.8,347.8 L450.6,354.3 L451.2,355.0 L448.5,355.7 L445.1,357.7 L441.8,360.4 L440.4,362.4 L438.4,363.1 L434.3,365.1 L429.6,366.5 L424.9,365.8 L420.1,366.5 L415.4,368.5 L411.4,369.2 L411.4,366.5 L409.3,363.1 L406.6,359.1 L405.3,355.0 L406.4,346.4Z" fill="#fce868" stroke="#3a3020" stroke-width="0.5" stroke-linejoin="round"/>
<path d="M148.2,340.6 L152.1,338.1 L161.2,336.8 L169.0,340.6 L181.9,343.2 L194.9,345.8 L205.3,348.4 L211.8,351.0 L218.3,356.2 L227.4,360.1 L236.5,362.7 L244.3,365.3 L248.2,365.3 L246.9,370.5 L241.7,375.7 L233.9,378.3 L227.4,380.9 L224.8,383.5 L219.6,390.0 L215.7,396.5 L214.7,395.5 L217.3,401.9 L213.4,407.1 L208.2,413.5 L201.8,416.1 L196.6,419.9 L190.2,421.2 L182.5,419.9 L173.5,418.7 L167.0,421.2 L160.6,422.5 L158.0,419.9 L155.4,413.5 L150.3,407.1 L151.5,401.9 L155.4,398.0 L154.1,392.9 L155.4,387.7 L158.0,382.6 L157.3,380.9 L159.9,375.7 L161.2,369.2 L165.1,365.3 L167.7,360.1 L165.1,356.2 L159.9,353.6 L153.4,352.3 L148.2,353.6 L146.9,345.8Z" fill="#8a8a8a" stroke="#555" stroke-width="0.5" stroke-linejoin="round"/>
<path d="M237.8,393.9 L243.0,391.8 L246.9,393.9 L245.6,397.8 L241.7,399.1Z" fill="#8a8a8a" stroke="#555" stroke-width="0.5" stroke-linejoin="round"/>
<path d="M249.5,391.8 L253.4,391.3 L253.4,393.4 L250.3,393.6Z" fill="#8a8a8a" stroke="#555" stroke-width="0.5" stroke-linejoin="round"/>
<path d="M226.6,401.2 L230.0,400.4 L230.8,403.8 L227.7,404.8Z" fill="#8a8a8a" stroke="#555" stroke-width="0.5" stroke-linejoin="round"/>
<path d="M148.2,353.6 L153.4,352.3 L159.9,353.6 L165.1,356.2 L167.7,360.1 L165.1,365.3 L161.2,369.2 L159.9,375.7 L157.3,380.9 L158.0,382.6 L155.4,387.7 L154.1,392.9 L155.4,398.0 L151.5,401.9 L150.3,407.1 L149.0,407.8 L141.2,408.4 L134.8,405.8 L138.7,398.0 L139.9,391.6 L136.1,390.3 L134.8,386.4 L137.4,382.6 L139.1,380.9 L143.0,373.1 L145.6,365.3 L147.7,357.5Z" fill="#fce868" stroke="#3a3020" stroke-width="0.5" stroke-linejoin="round"/>
<path d="M505.2,419.2 L509.1,415.3 L514.3,412.7 L518.2,410.1 L523.4,406.2 L522.1,410.1 L519.5,414.0 L520.8,416.6 L516.9,420.5 L513.0,423.1 L507.8,421.8Z" fill="#fce868" stroke="#6b5a10" stroke-width="0.5" stroke-linejoin="round"/>
<path d="M340.8,436.1 L344.7,437.7 L343.7,439.9 L341.4,438.6Z" fill="#fce868" stroke="#6b5a10" stroke-width="0.5" stroke-linejoin="round"/>
<path d="M3.5,347 L5,346.5 L5.5,348 L4,348.5Z" fill="#fce868" stroke="#6b5a10" stroke-width="0.5" stroke-linejoin="round"/>
<path d="M49.5,428.3 L52,427.8 L53.5,429.5 L51.5,430.8 L49.8,430Z" fill="#fce868" stroke="#6b5a10" stroke-width="0.5" stroke-linejoin="round"/>
<path d="M399.4,253.2 L407.5,250.9 L416.6,249.7 L425.8,250.9 L434.9,248.6 L442.9,247.5 L446.3,240.6 L453.2,237.2 L455.5,234.9 L461.2,232.6 L466.9,236.0 L470.4,241.7 L478.4,242.9 L483.0,246.3 L492.1,244.0 L499.0,242.9 L508.1,244.0 L515.0,247.5 L518.4,253.2 L520.0,258.9" fill="none" stroke="#a9a9a9" stroke-width="0.5" stroke-linejoin="round"/>
<path d="M455.5,234.9 L450.9,230.3 L446.3,226.9 L448.6,220.0" fill="none" stroke="#a9a9a9" stroke-width="0.5" stroke-linejoin="round"/>
<path d="M461.0,230.5 L466.2,234.4 L471.4,240.9 L479.2,243.5 L484.4,244.8 L493.5,242.2 L502.6,243.5 L514.2,243.5 L516.8,251.3 L518.1,259.1 L519.4,264.3 L512.9,270.8 L515.5,274.9" fill="none" stroke="#a9a9a9" stroke-width="0.5" stroke-linejoin="round"/>
<path d="M613.7,161.7 L609.1,169.5 L602.6,176.0 L596.1,181.2 L588.3,178.6 L580.5,181.2 L572.7,185.1 L567.5,189.0 L566.2,198.1 L561.0,205.8 L566.2,212.3 L562.3,213.6 L556.6,211.0 L557.1,218.8 L559.7,227.9 L562.3,234.4 L570.1,237.0 L579.2,238.3 L585.7,242.2 L589.6,244.8" fill="none" stroke="#a9a9a9" stroke-width="0.5" stroke-linejoin="round"/>
<path d="M426.9,288.6 L433.8,286.3 L440.6,287.5 L446.3,292.1 L449.8,297.8 L454.4,301.2 L453.2,306.9 L448.6,310.4 L446.3,313.8" fill="none" stroke="#a9a9a9" stroke-width="0.5" stroke-linejoin="round"/>
<path d="M538.9,306.8 L549.3,304.2 L559.7,301.6 L570.1,301.6 L580.5,299.0 L585.7,299.0 L590.9,301.6 L596.1,302.9 L597.4,308.1 L592.2,310.6 L588.3,313.2 L596.1,322.3 L606.5,327.5 L611.6,322.3" fill="none" stroke="#a9a9a9" stroke-width="0.5" stroke-linejoin="round"/>
<path d="M559.2,322.3 L567.5,319.7 L575.3,321.0 L581.8,327.5 L590.9,328.8 L601.3,334.0 L606.5,330.1" fill="none" stroke="#a9a9a9" stroke-width="0.5" stroke-linejoin="round"/>
<path d="M588.3,330.1 L593.5,343.1 L601.3,356.1 L613.7,363.9" fill="none" stroke="#a9a9a9" stroke-width="0.5" stroke-linejoin="round"/>
<path d="M546.7,384.9 L559.7,379.5 L570.1,371.7 L580.5,366.5 L590.9,361.3 L601.3,356.1" fill="none" stroke="#a9a9a9" stroke-width="0.5" stroke-linejoin="round"/>
<path d="M535.3,394.5 L546.6,388.1 L559.5,383.2 L572.4,381.6 L580.4,380.0" fill="none" stroke="#a9a9a9" stroke-width="0.5" stroke-linejoin="round"/>
<path d="M580.4,380.0 L582.0,392.9 L575.6,405.8 L569.1,417.0 L575.6,428.3 L559.5,441.2 L569.1,449.2 L562.7,458.9 L556.3,465.3 L546.6,472.8" fill="none" stroke="#a9a9a9" stroke-width="0.5" stroke-linejoin="round"/>
<path d="M536.0,449.2 L545.0,472.8" fill="none" stroke="#a9a9a9" stroke-width="0.5" stroke-linejoin="round"/>
<path d="M575.6,428.3 L594.9,426.7 L614.2,431.5" fill="none" stroke="#a9a9a9" stroke-width="0.5" stroke-linejoin="round"/>
<path d="M536.3,410.6 L541.8,412.2 L545.0,415.4 L543.4,423.5 L538.6,433.1 L545.0,434.8 L543.4,444.4 L545.0,454.1 L546.0,467.0" fill="none" stroke="#a9a9a9" stroke-width="0.5" stroke-linejoin="round"/>
<path d="M194.1,439.8 L194.8,449.6 L194.1,457.3 L196.6,465.1 L197.9,472.8" fill="none" stroke="#a9a9a9" stroke-width="0.5" stroke-linejoin="round"/>
<path d="M288.3,427.4 L289.9,435.4 L286.7,445.1 L283.5,453.1 L280.3,459.6 L283.5,466.0 L288.3,472.8" fill="none" stroke="#a9a9a9" stroke-width="0.5" stroke-linejoin="round"/>
<path d="M414.7,197.2 L420.4,198.3 L427.3,200.6 L448.6,220.0" fill="none" stroke="#a9a9a9" stroke-width="0.5" stroke-linejoin="round"/>
<path d="M375.2,336.0 L377.8,341.2 L379.1,349.0 L375.2,354.2 L373.9,363.2" fill="none" stroke="#a9a9a9" stroke-width="0.5" stroke-linejoin="round"/>
<path d="M379.1,349.0 L384.3,352.9 L390.8,355.5 L394.7,360.6 L399.9,361.9 L405.1,359.4" fill="none" stroke="#a9a9a9" stroke-width="0.5" stroke-linejoin="round"/>
<path d="M390.8,355.5 L388.2,361.9 L388.2,367.1 L384.3,371.0" fill="none" stroke="#a9a9a9" stroke-width="0.5" stroke-linejoin="round"/>
<path d="M388.2,367.1 L392.1,369.7 L394.7,380.1" fill="none" stroke="#a9a9a9" stroke-width="0.5" stroke-linejoin="round"/>
<path d="M392.1,369.7 L394.7,360.6" fill="none" stroke="#a9a9a9" stroke-width="0.5" stroke-linejoin="round"/>
</g>
<!-- legend swatches -->
<g>
<rect x="13" y="107.3" width="20.4" height="9.6" fill="#fce868"/>
<rect x="13" y="121.3" width="20.4" height="9.6" fill="#f5b335"/>
<rect x="13" y="135.4" width="20.4" height="9.6" fill="#d9831f"/>
<rect x="13" y="149.8" width="20.4" height="9.6" fill="#a2450f"/>
<rect x="13" y="164.2" width="20.4" height="9.6" fill="#730802"/>
<rect x="13" y="180.1" width="20.4" height="9.7" fill="#8a8a8a"/>
<rect x="13" y="196.6" width="20.4" height="9.7" fill="url(#hatchL)" stroke="#999" stroke-width="0.4"/>
<rect x="13.2" y="212.8" width="20" height="9.8" fill="#e4e4e4" stroke="#c4c4c4" stroke-width="0.6"/>
<rect x="13" y="269.7" width="20.4" height="10.3" fill="#fce868" stroke="#7a7030" stroke-width="0.5"/>
<rect x="13" y="285.4" width="20.4" height="10.3" fill="#fce868" stroke="#7a7030" stroke-width="0.5"/>
</g>
<!-- logo -->
<g id="logo">
<ellipse cx="25.7" cy="46.9" rx="9.2" ry="6.5" fill="#a9d672"/>
<path d="M16.5,49 Q25,44 34.5,46 M17.5,52.5 Q25,48.5 34,50.5 M22,41.5 Q20.5,48 22.5,54 M28,41 Q28,47 29.5,53.5 M18,44.5 Q25,40 33,43" fill="none" stroke="#1d4f1d" stroke-width="0.85"/>
<path d="M16.3,47 Q15.5,53 20,55.5" fill="none" stroke="#2a5d2a" stroke-width="0.8"/>
<path d="M36.6,52 Q37.5,48.5 40.2,49" fill="none" stroke="#6ab43e" stroke-width="0.9"/>
<rect x="22.4" y="62.5" width="6.3" height="3.9" fill="#1b3f9c"/>
<rect x="30" y="62.6" width="15.5" height="0.9" fill="#3b4a6b"/><rect x="30" y="64" width="14" height="0.9" fill="#3b4a6b"/><rect x="30" y="65.4" width="10" height="0.8" fill="#3b4a6b"/>
</g>
</svg>
<div class="t" id="t1" style="left:32.5px;top:7.63px;font-size:15.2px;font-weight:bold;transform-origin:0 0;transform:scaleX(0.8357);">Distribución de casos confirmados de criptosporidiosis por 100.000 habitantes, por países,</div>
<div class="t" id="t2" style="left:32.5px;top:24.13px;font-size:15.2px;font-weight:bold;transform-origin:0 0;transform:scaleX(0.80);">EU/EEE, 2017</div>
<div class="t" id="logo_t" style="left:22.4px;top:49.9px;font-size:13.2px;letter-spacing:-0.75px;font-weight:normal;-webkit-text-stroke:0.25px;"><span style="color:#1f4f55;-webkit-text-stroke-color:#1f4f55">e</span><span style="color:#6ab43e;-webkit-text-stroke-color:#6ab43e">cd</span><span style="color:#1f4f55;-webkit-text-stroke-color:#1f4f55">c</span></div>
<div class="t" id="lt" style="left:13.3px;top:90.94px;font-size:9.4px;font-weight:bold;transform-origin:0 0;transform:scaleX(1.045);">Notification rate (N/100000)</div>
<div class="t lg" style="left:37px;top:107.89px;font-size:9.4px;transform-origin:0 0;transform:scaleX(0.925);color:#111;">0.00–0.49</div>
<div class="t lg" style="left:37px;top:121.89px;font-size:9.4px;transform-origin:0 0;transform:scaleX(0.925);color:#111;">0.50–0.99</div>
<div class="t lg" style="left:37px;top:135.99px;font-size:9.4px;transform-origin:0 0;transform:scaleX(0.925);color:#111;">1.00–4.99</div>
<div class="t lg" style="left:37px;top:150.39px;font-size:9.4px;transform-origin:0 0;transform:scaleX(0.925);color:#111;">5.00–9.99</div>
<div class="t lg" style="left:37px;top:164.79px;font-size:9.4px;transform-origin:0 0;transform:scaleX(0.925);color:#111;">≥10.00</div>
<div class="t lg" style="left:37px;top:180.79px;font-size:9.4px;transform-origin:0 0;transform:scaleX(0.925);color:#111;">Not calculated</div>
<div class="t lg" style="left:37px;top:197.19px;font-size:9.4px;transform-origin:0 0;transform:scaleX(0.925);color:#111;">No data reported</div>
<div class="t lg" style="left:37px;top:213.29px;font-size:9.4px;transform-origin:0 0;transform:scaleX(0.925);color:#111;">Not included</div>
<div class="t" id="c1" style="left:13.6px;top:244.44px;font-size:9.4px;transform-origin:0 0;transform:scaleX(0.94);color:#111;">Countries not visible</div>
<div class="t" id="c2" style="left:13.6px;top:254.34px;font-size:9.4px;transform-origin:0 0;transform:scaleX(0.94);color:#111;">in the main map extent</div>
<div class="t" id="lux" style="left:45.8px;top:270.34px;font-size:9.4px;transform-origin:0 0;transform:scaleX(0.90);color:#111;">Luxembourg</div>
<div class="t" id="mal" style="left:47px;top:286.04px;font-size:9.4px;transform-origin:0 0;transform:scaleX(0.92);color:#111;">Malta</div>
<div class="t" id="foot" style="left:3.9px;top:466.0px;font-size:6.2px;color:#222;transform-origin:0 0;transform:scaleX(0.915);">ECDC. Map produced on: 19 Nov 2018</div>
</body></html>
